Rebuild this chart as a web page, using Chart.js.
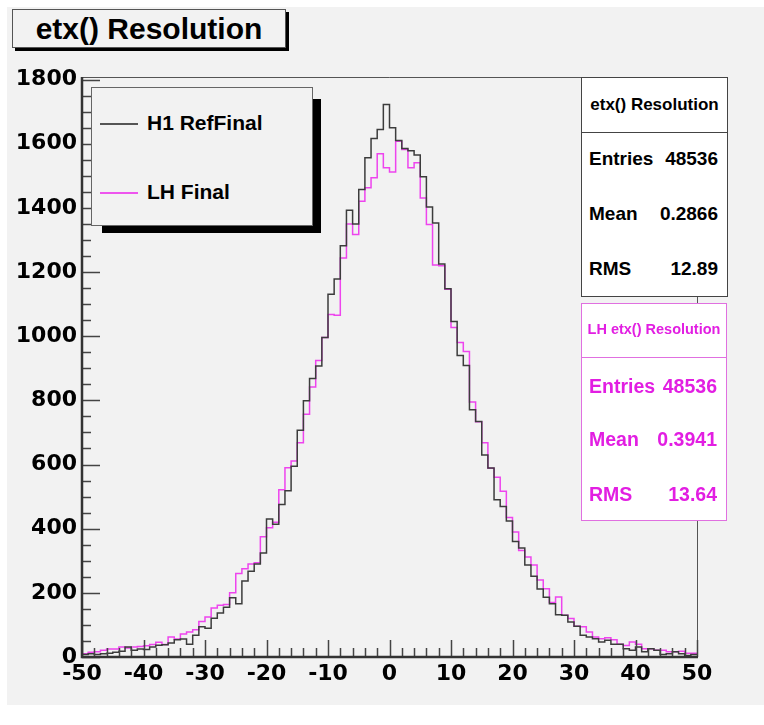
<!DOCTYPE html>
<html>
<head>
<meta charset="utf-8">
<script src="https://cdn.jsdelivr.net/npm/chart.js@4.4.1/dist/chart.umd.min.js"></script>
<style>
  body { margin: 0; background: #ffffff; }
  #wrap { position: relative; width: 764px; height: 725px; }
  #grafico1 { position: absolute; left: 0; top: 0; }
  .box { position: absolute; box-sizing: border-box; }
  .bold { font-family: "Liberation Sans", Arial, sans-serif; font-weight: bold; }
  .row { position: absolute; left: 7px; right: 9px; display: flex; justify-content: space-between; line-height: 1; }
</style>
</head>
<body>
<div id="wrap">
  <canvas id="grafico1" width="764" height="725"></canvas>

  <!-- titulo -->
  <div class="box" style="left:15px; top:12px; width:274px; height:39px; background:#000;"></div>
  <div class="box bold" style="left:12px; top:9px; width:274px; height:39px; background:#f2f2f2; border:1px solid #555; font-size:30px; line-height:37px; text-align:center;">etx() Resolution</div>

  <!-- leyenda -->
  <div class="box" style="left:102px; top:99px; width:219px; height:134px; background:#000;"></div>
  <div class="box" style="left:91px; top:87px; width:222px; height:139px; background:#f2f2f2; border:1px solid #666;">
    <div class="box" style="left:8px; top:35px; width:38px; height:2px; background:#555;"></div>
    <div class="bold" style="position:absolute; left:55px; top:23px; font-size:21px;">H1 RefFinal</div>
    <div class="box" style="left:8px; top:104px; width:38px; height:2px; background:#ee55ee;"></div>
    <div class="bold" style="position:absolute; left:55px; top:92px; font-size:21px;">LH Final</div>
  </div>

  <!-- caja de estadisticas 1 -->
  <div class="box bold" style="left:581px; top:77px; width:147px; height:220px; background:#fff; border:1px solid #444; color:#000;">
    <div style="position:absolute; left:0; right:0; top:17px; text-align:center; font-size:17px;">etx() Resolution</div>
    <div style="position:absolute; left:0; right:0; top:54px; border-top:1px solid #444;"></div>
    <div class="row" style="top:71px; font-size:19px;"><span>Entries</span><span>48536</span></div>
    <div class="row" style="top:126px; font-size:19px;"><span>Mean</span><span>0.2866</span></div>
    <div class="row" style="top:181px; font-size:19px;"><span>RMS</span><span>12.89</span></div>
  </div>

  <!-- caja de estadisticas 2 -->
  <div class="box bold" style="left:581px; top:303px; width:146px; height:218px; background:#fff; border:1px solid #e070e0; color:#e21ee2;">
    <div style="position:absolute; left:0; right:0; top:17px; text-align:center; font-size:14.5px;">LH etx() Resolution</div>
    <div style="position:absolute; left:0; right:0; top:53px; border-top:1px solid #e070e0;"></div>
    <div class="row" style="top:73px; font-size:19.5px;"><span>Entries</span><span>48536</span></div>
    <div class="row" style="top:126px; font-size:19.5px;"><span>Mean</span><span>0.3941</span></div>
    <div class="row" style="top:181px; font-size:19.5px;"><span>RMS</span><span>13.64</span></div>
  </div>
</div>

<script>
// eje x: bins de ancho 1 entre -50 y 50
const xMin = -50;
const xMax = 50;
const binWidth = 1;
const yMax = 1808;

const xTicks = [-50, -40, -30, -20, -10, 0, 10, 20, 30, 40, 50];
const yTicks = [0, 200, 400, 600, 800, 1000, 1200, 1400, 1600, 1800];

const seriesNames = ['H1 RefFinal', 'LH Final'];

// contenido de cada bin, de -50 a 49
const refFinal = [
    8, 10, 8, 10, 12, 15, 18, 31, 21, 25,
    23, 31, 37, 38, 44, 54, 56, 40, 68, 94,
    90, 121, 137, 155, 185, 166, 237, 267, 290, 324,
    430, 414, 475, 518, 595, 707, 799, 868, 907, 996,
    1131, 1178, 1282, 1393, 1350, 1457, 1556, 1616, 1644, 1722,
    1650, 1610, 1585, 1578, 1565, 1497, 1403, 1353, 1225, 1148,
    1046, 940, 909, 771, 734, 630, 589, 490, 469, 424,
    360, 340, 287, 252, 212, 186, 166, 132, 130, 109,
    96, 68, 62, 57, 47, 52, 40, 40, 26, 21,
    31, 16, 26, 21, 8, 10, 16, 10, 5, 8
];

const lhFinal = [
    10, 15, 16, 21, 25, 25, 31, 28, 31, 33,
    35, 39, 46, 39, 62, 56, 72, 78, 85, 111,
    125, 153, 161, 164, 200, 260, 275, 290, 294, 375,
    403, 420, 521, 590, 611, 668, 757, 842, 924, 996,
    1068, 1065, 1244, 1350, 1317, 1421, 1463, 1494, 1569, 1525,
    1512, 1608, 1582, 1525, 1541, 1431, 1348, 1222, 1220, 1146,
    1027, 980, 952, 795, 733, 668, 588, 560, 517, 435,
    390, 332, 312, 287, 240, 213, 170, 187, 130, 120,
    96, 94, 78, 62, 57, 60, 54, 40, 36, 47,
    40, 26, 26, 21, 21, 16, 16, 18, 12, 12
];

function toSteps(values) {
    const pts = values.map((v, i) => ({ x: xMin + i * binWidth, y: v }));
    pts.push({ x: xMin + values.length * binWidth, y: values[values.length - 1] });
    return pts;
}

const rootFrame = {
    id: 'rootFrame',
    beforeDraw(chart) {
        const ctx = chart.ctx;
        ctx.save();
        ctx.fillStyle = '#f2f2f2';
        ctx.fillRect(7, 7, chart.width - 7, 698);
        ctx.restore();
    },
    afterDraw(chart) {
        const ctx = chart.ctx;
        const a = chart.chartArea;
        const xs = chart.scales.x;
        const ys = chart.scales.y;
        ctx.save();

        // marco fino arriba y a la derecha
        ctx.strokeStyle = '#555';
        ctx.lineWidth = 1;
        ctx.beginPath();
        ctx.moveTo(a.left, a.top + 0.5);
        ctx.lineTo(a.right + 0.5, a.top + 0.5);
        ctx.lineTo(a.right + 0.5, a.bottom);
        ctx.stroke();

        // marcas del eje y hacia dentro
        ctx.strokeStyle = '#444';
        ctx.lineWidth = 1.5;
        ctx.beginPath();
        for (let v = 0; v <= yMax; v += 50) {
            const py = Math.round(ys.getPixelForValue(v)) + 0.5;
            const len = v % 200 === 0 ? 18 : 9;
            ctx.moveTo(a.left, py);
            ctx.lineTo(a.left + len, py);
        }
        // marcas del eje x hacia arriba
        for (let v = xMin; v <= xMax; v += 2) {
            const px = Math.round(xs.getPixelForValue(v)) + 0.5;
            const len = v % 10 === 0 ? 17 : 9;
            ctx.moveTo(px, a.bottom);
            ctx.lineTo(px, a.bottom - len);
        }
        ctx.stroke();

        // ejes gruesos
        ctx.strokeStyle = '#333';
        ctx.lineWidth = 2.5;
        ctx.beginPath();
        ctx.moveTo(a.left, a.top);
        ctx.lineTo(a.left, a.bottom);
        ctx.lineTo(a.right + 1, a.bottom);
        ctx.stroke();
        ctx.restore();
    }
};

function renderChart() {
    const ctx = document.getElementById('grafico1').getContext('2d');
    const tickFont = { family: 'DejaVu Sans', weight: 'bold', size: 22 };
    new Chart(ctx, {
        type: 'line',
        data: {
            datasets: [{
                label: seriesNames[0],
                data: toSteps(refFinal),
                borderColor: '#3c3c3c',
                borderWidth: 1.5,
                stepped: 'before',
                pointRadius: 0,
                fill: false
            }, {
                label: seriesNames[1],
                data: toSteps(lhFinal),
                borderColor: '#ee44ee',
                borderWidth: 1.5,
                stepped: 'before',
                pointRadius: 0,
                fill: false
            }]
        },
        options: {
            responsive: false,
            animation: false,
            devicePixelRatio: 1,
            layout: { padding: { top: 77, right: 67, bottom: 0, left: 0 } },
            plugins: {
                legend: { display: false },
                tooltip: { enabled: false }
            },
            scales: {
                x: {
                    type: 'linear',
                    min: xMin,
                    max: xMax,
                    afterBuildTicks: s => { s.ticks = xTicks.map(v => ({ value: v })); },
                    afterFit: s => { s.height = 68; },
                    grid: { display: false, drawTicks: false },
                    border: { display: false },
                    ticks: { color: '#000', font: tickFont, padding: 4, maxRotation: 0, autoSkip: false,
                             callback: v => String(v) }
                },
                y: {
                    min: 0,
                    max: yMax,
                    afterBuildTicks: s => { s.ticks = yTicks.map(v => ({ value: v })); },
                    afterFit: s => { s.width = 82; },
                    grid: { display: false, drawTicks: false },
                    border: { display: false },
                    ticks: { color: '#000', font: tickFont, padding: 5, autoSkip: false,
                             callback: v => String(v) }
                }
            }
        },
        plugins: [rootFrame]
    });
}

renderChart();
</script>
</body>
</html>
